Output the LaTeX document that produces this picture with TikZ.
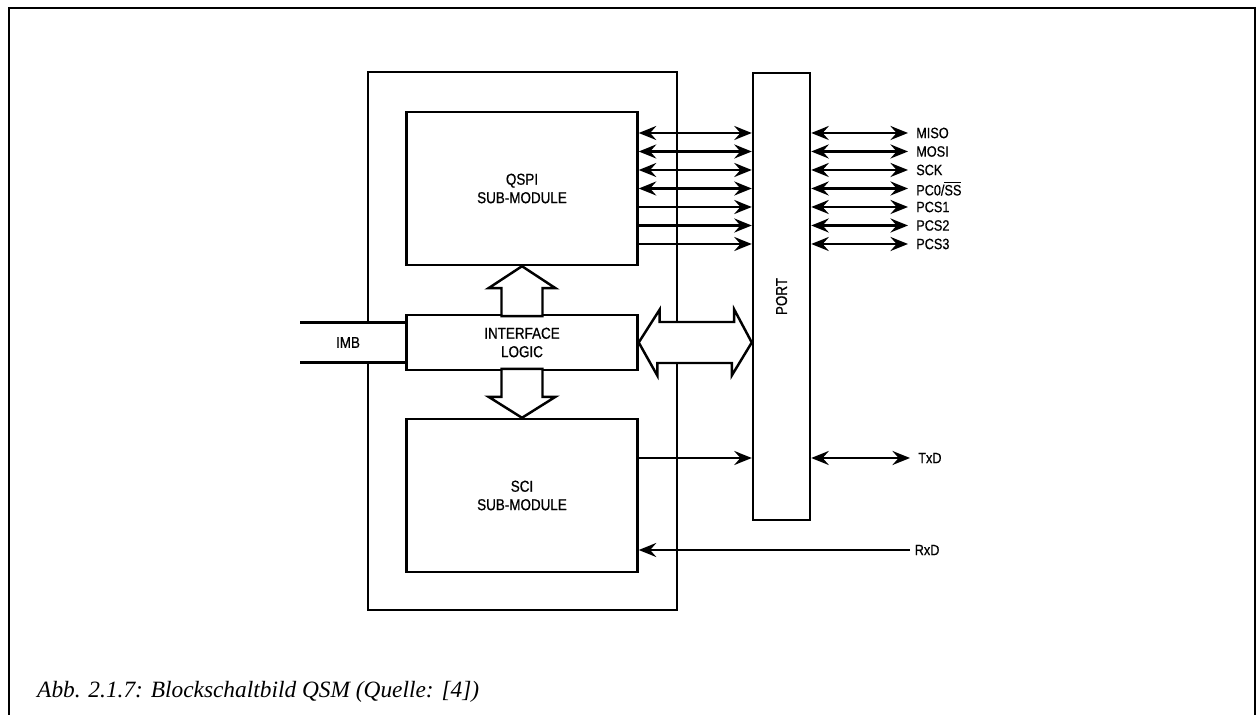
\documentclass[tikz,border=0pt]{standalone}
\usepackage{fontspec}
\setmainfont{Liberation Serif}
\newfontfamily\diagfont[FakeStretch=0.85,FakeBold=0.6]{Liberation Sans}
\usetikzlibrary{arrows.meta}

\begin{document}
\begin{tikzpicture}[x=0.02cm, y=-0.02cm, line width=1.4pt,
  >={Stealth[length=10pt,width=8pt,inset=3.5pt]},
  blk/.style={draw, fill=white, inner sep=0pt, align=center,
    font=\diagfont\fontsize{9}{10.5}\selectfont},
  pinlbl/.style={font=\diagfont\fontsize{8.5}{10}\selectfont, inner sep=0pt, anchor=west},
  fat/.style={draw, fill=white, line join=miter}]
  \useasboundingbox (0,0) rectangle (1257,715);
  % Rahmen
  \draw (9,715) -- (9,8) -- (1255,8) -- (1255,715);
  % ---- QSM ----
  \node[draw, inner sep=0pt, minimum width=6.18cm, minimum height=10.76cm] (qsm) at (522.5,341) {};
  % IMB-Bus
  \coordinate (imbt) at (300,322.5);
  \coordinate (imbb) at (300,362.5);
  \fill[white] (imbt) rectangle (390,362.5);
  % ---- Bloecke ----
  \node[blk, minimum width=4.62cm, minimum height=3.06cm] (qspi) at (522,188.5) {QSPI\\SUB-MODULE};
  \node[blk, minimum width=4.62cm, minimum height=1.1cm] (ilogic) at (522,342.5) {INTERFACE\\LOGIC};
  \node[blk, minimum width=4.62cm, minimum height=3.06cm] (sci) at (522,495.5) {SCI\\SUB-MODULE};
  \node[blk, minimum width=1.14cm, minimum height=8.94cm] (port) at (781.5,296.5) {};
  \node[rotate=90, inner sep=0pt, font=\diagfont\fontsize{9}{10.5}\selectfont] (portlbl) at (port.center) {PORT};
  \draw (imbt) -- (ilogic.west |- imbt);
  \draw (imbb) -- (ilogic.west |- imbb);
  \node[inner sep=0pt, font=\diagfont\fontsize{9}{10.5}\selectfont] (imb) at (348,342.5) {IMB};
  % ---- breite Pfeile ----
  \draw[fat] (qspi.south) -- ++(33.5,22) -- ++(-13,0) -- ++(0,28) -- ++(-41,0) -- ++(0,-28) -- ++(-13,0) -- cycle;
  \draw[fat] (sci.north) -- ++(33.5,-21) -- ++(-13,0) -- ++(0,-28) -- ++(-41,0) -- ++(0,28) -- ++(-13,0) -- cycle;
  \draw[fat] (ilogic.east) -- ++(21,-33) -- ++(0,12.5) -- ++(74.5,0) -- ++(0,-12.5)
    -- (port.west |- ilogic.east) -- ++(-20,33) -- ++(0,-12.5) -- ++(-74.5,0) -- ++(0,12.5) -- cycle;
  % ---- Anschluesse ----
  \foreach \y/\lab [count=\i] in {133/MISO, 151.5/MOSI, 170/SCK, 188.5/{PC0/$\overline{\mbox{SS}}$},
      207/PCS1, 225.5/PCS2, 244/PCS3} {
    \coordinate (pin\i) at (908,\y);
    \draw[<->] (port.east |- pin\i) -- (pin\i);
    \node[pinlbl] (lbl\i) at ([xshift=4pt]pin\i) {\lab};
  }
  \foreach \i in {1,...,4}
    \draw[<->] (qspi.east |- pin\i) -- (port.west |- pin\i);
  \foreach \i in {5,6,7}
    \draw[->] (qspi.east |- pin\i) -- (port.west |- pin\i);
  \coordinate (txd) at (910,458);
  \coordinate (rxd) at (910,550);
  \draw[->] (sci.east |- txd) -- (port.west |- txd);
  \draw[<->] (port.east |- txd) -- (txd);
  \node[pinlbl] (txdlbl) at ([xshift=4pt]txd) {TxD};
  \draw[->] (rxd) -- (sci.east |- rxd);
  \node[pinlbl] (rxdlbl) at ([xshift=2pt]rxd) {RxD};
  % Bildunterschrift
  \node[anchor=base west, inner sep=0pt, font=\itshape\fontsize{13.3}{15}\selectfont] (cap) at (36,697)
    {Abb. 2.1.7: Blockschaltbild QSM (Quelle: [4])};
\end{tikzpicture}
\end{document}
